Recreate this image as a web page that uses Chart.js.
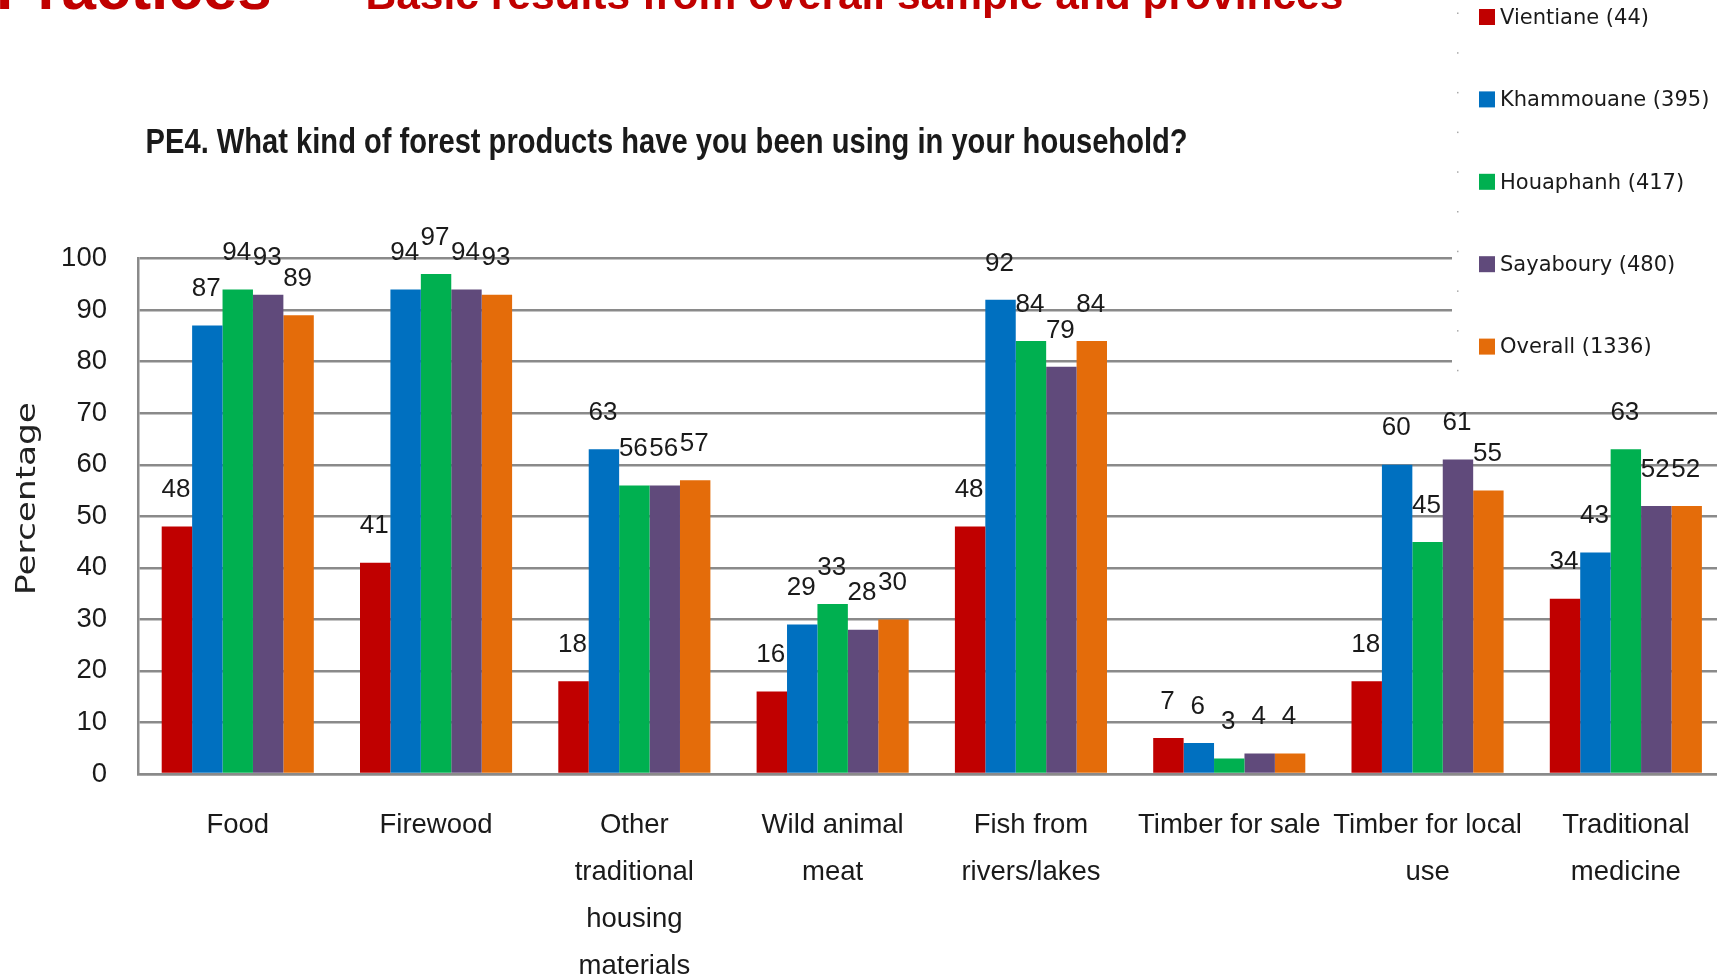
<!DOCTYPE html>
<html>
<head>
<meta charset="utf-8">
<title>PE4 - forest products used by households</title>
<script src="https://cdn.jsdelivr.net/npm/chart.js@4.4.1/dist/chart.umd.min.js"></script>
<style>
    html, body { margin: 0; padding: 0; background: #ffffff; overflow: hidden; }
    #wrap { position: relative; width: 1717px; height: 980px; overflow: hidden; }
    canvas { display: block; }
</style>
</head>
<body>
<div id="wrap"><canvas id="forestChart" width="1730" height="980"></canvas></div>
<script>
// Forest products used by households, share per province (%)

const categories = [
    ['Food'],
    ['Firewood'],
    ['Other', 'traditional', 'housing', 'materials'],
    ['Wild animal', 'meat'],
    ['Fish from', 'rivers/lakes'],
    ['Timber for sale'],
    ['Timber for local', 'use'],
    ['Traditional', 'medicine']
];

const vientiane  = [48, 41, 18, 16, 48, 7, 18, 34];
const khammouane = [87, 94, 63, 29, 92, 6, 60, 43];
const houaphanh  = [94, 97, 56, 33, 84, 3, 45, 63];
const sayaboury  = [93, 94, 56, 28, 79, 4, 61, 52];
const overall    = [89, 93, 57, 30, 84, 4, 55, 52];

const seriesValues = [vientiane, khammouane, houaphanh, sayaboury, overall];
const seriesLabels = ['Vientiane (44)', 'Khammouane (395)', 'Houaphanh (417)', 'Sayaboury (480)', 'Overall (1336)'];
const seriesColors = ['#C00000', '#0070C0', '#00B050', '#604A7B', '#E46C0A'];

const yMin = 0;
const yMax = 100;
const yStep = 10;

const pageHeading = 'Practices';
const pageSubheading = 'Basic results from overall sample and provinces';
const chartTitle = 'PE4. What kind of forest products have you been using in your household?';
const yAxisTitle = 'Percentage';

const GRID_COLOR = '#8a8a8a';
const TEXT_COLOR = '#1a1a1a';

/**
 * Checks whether a font family is installed (canvas falls back silently otherwise)
 */
function fontInstalled(family) {
    const ctx = document.createElement('canvas').getContext('2d');
    ctx.font = '40px monospace';
    const fallback = ctx.measureText('Timber for sale').width;
    ctx.font = `40px "${family}", monospace`;
    return ctx.measureText('Timber for sale').width !== fallback;
}

// Category labels want a narrow face; plain Liberation Sans at a smaller size otherwise
const categoryFont = fontInstalled('Liberation Sans Narrow')
    ? { family: '"Liberation Sans Narrow", sans-serif', size: 33 }
    : { family: '"Liberation Sans", Arial, sans-serif', size: 27.5 };
categoryFont.lineHeight = 47 / categoryFont.size;

// White background, slide headings, question title and the y axis title
const pageTextPlugin = {
    id: 'pageText',
    beforeDraw(chart) {
        const ctx = chart.ctx;
        ctx.save();
        ctx.fillStyle = '#ffffff';
        ctx.fillRect(0, 0, chart.width, chart.height);
        ctx.restore();
    },
    afterDraw(chart) {
        const ctx = chart.ctx;
        ctx.save();
        ctx.textAlign = 'left';
        ctx.textBaseline = 'alphabetic';

        ctx.fillStyle = '#C00000';
        ctx.font = 'bold 62px "Liberation Sans", Arial, sans-serif';
        ctx.fillText(pageHeading, -4, 8.5);
        ctx.font = 'bold 42.5px "Liberation Sans", Arial, sans-serif';
        ctx.fillText(pageSubheading, 365.5, 8.5, 978);

        ctx.fillStyle = TEXT_COLOR;
        ctx.font = 'bold 35px "Liberation Sans", Arial, sans-serif';
        ctx.fillText(chartTitle, 145.6, 153.3, 1042);

        // rotated axis title, stretched along its baseline
        ctx.translate(35, 498.5);
        ctx.rotate(-Math.PI / 2);
        ctx.scale(1.27, 1);
        ctx.textAlign = 'center';
        ctx.fillStyle = '#222222';
        ctx.font = '27px "DejaVu Sans", sans-serif';
        ctx.fillText(yAxisTitle, 0, 0);
        ctx.restore();
    }
};

// Legend panel in the top right corner, sitting over the gridlines
const sideLegendPlugin = {
    id: 'sideLegend',
    beforeDatasetsDraw(chart) {
        const ctx = chart.ctx;
        ctx.save();
        ctx.fillStyle = '#ffffff';
        ctx.fillRect(1452, 0, chart.width - 1452, 388);
        // faint dotted edge of the panel
        ctx.fillStyle = '#a9a9a9';
        for (let y = 12.5; y < 380; y += 39.7) {
            ctx.fillRect(1457, y, 1.5, 1.5);
        }
        ctx.restore();
    },
    afterDraw(chart) {
        const ctx = chart.ctx;
        ctx.save();
        chart.data.datasets.forEach((dataset, i) => {
            const cy = 17 + i * 82.4;
            ctx.fillStyle = dataset.backgroundColor;
            ctx.fillRect(1479, cy - 8, 16, 16);

            ctx.save();
            ctx.translate(1500, cy + 1);
            ctx.scale(0.955, 1);
            ctx.fillStyle = '#1a1a1a';
            ctx.textAlign = 'left';
            ctx.textBaseline = 'middle';
            ctx.font = '22px "DejaVu Sans", sans-serif';
            ctx.fillText(dataset.label, 0, 0);
            ctx.restore();
        });
        ctx.restore();
    }
};

// Value printed above every bar
const barValuesPlugin = {
    id: 'barValues',
    afterDatasetsDraw(chart) {
        const ctx = chart.ctx;
        ctx.save();
        ctx.font = '26px "Liberation Sans", Arial, sans-serif';
        ctx.fillStyle = TEXT_COLOR;
        ctx.textAlign = 'center';
        ctx.textBaseline = 'middle';
        chart.data.datasets.forEach((dataset, i) => {
            chart.getDatasetMeta(i).data.forEach((bar, j) => {
                ctx.fillText(String(dataset.data[j]), bar.x - 1, bar.y - 36.5);
            });
        });
        ctx.restore();
    }
};

new Chart(document.getElementById('forestChart'), {
    type: 'bar',
    data: {
        labels: categories,
        datasets: seriesValues.map((values, i) => ({
            label: seriesLabels[i],
            data: values,
            backgroundColor: seriesColors[i],
            borderWidth: 0,
            categoryPercentage: 0.767,
            barPercentage: 1
        }))
    },
    options: {
        responsive: false,
        animation: false,
        devicePixelRatio: 1,
        layout: {
            padding: { top: 258.6, right: 5, bottom: 0, left: 0 }
        },
        plugins: {
            legend: { display: false },
            title: { display: false },
            tooltip: { enabled: false }
        },
        scales: {
            x: {
                grid: { display: false, drawTicks: false },
                border: { display: true, color: GRID_COLOR, width: 2.5 },
                ticks: {
                    autoSkip: false,
                    maxRotation: 0,
                    minRotation: 0,
                    padding: 28,
                    color: TEXT_COLOR,
                    font: categoryFont
                },
                afterFit(scale) {
                    scale.height = 206;
                }
            },
            y: {
                min: yMin,
                max: yMax,
                ticks: {
                    stepSize: yStep,
                    padding: 31.6,
                    color: TEXT_COLOR,
                    font: { family: '"Liberation Sans", Arial, sans-serif', size: 27.5 }
                },
                grid: { color: GRID_COLOR, lineWidth: 2.5, drawTicks: false },
                border: { display: true, color: GRID_COLOR, width: 2.5 },
                afterFit(scale) {
                    scale.width = 138.6;
                }
            }
        }
    },
    plugins: [pageTextPlugin, sideLegendPlugin, barValuesPlugin]
});
</script>
</body>
</html>
